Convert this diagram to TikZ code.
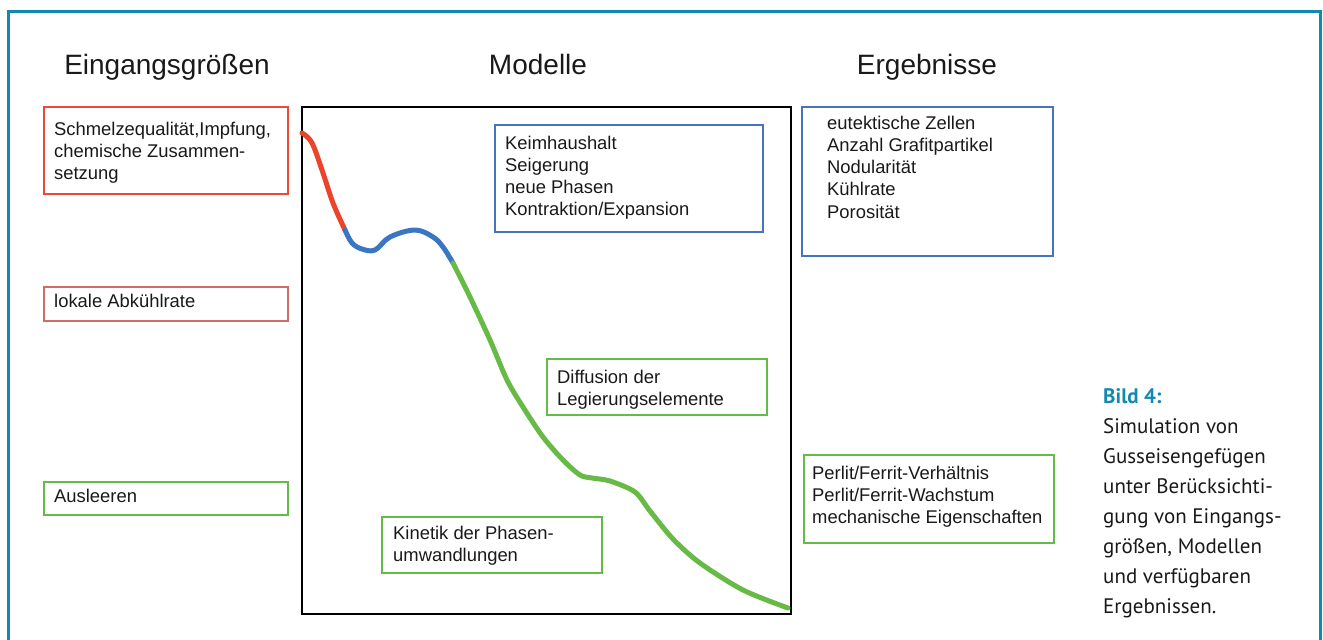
\documentclass[tikz,border=0pt]{standalone}
\usepackage{fontspec}
\setmainfont{Liberation Sans}
\newfontfamily\capfont{PT Sans}
\definecolor{frameteal}{RGB}{20,137,175}
\definecolor{boxred}{RGB}{236,74,52}
\definecolor{boxrose}{RGB}{205,108,104}
\definecolor{boxblue}{RGB}{72,116,190}
\definecolor{boxgreen}{RGB}{102,186,72}
\definecolor{curvered}{RGB}{236,68,42}
\definecolor{curveblue}{RGB}{58,118,194}
\definecolor{curvegreen}{RGB}{104,186,70}
\definecolor{txt}{RGB}{25,25,25}
\newcommand{\boxtext}[1]{\parbox[t]{300pt}{\raggedright\fontsize{18.4}{22.3}\selectfont #1}}
\newcommand{\captext}[1]{\parbox[t]{220pt}{\raggedright\capfont\fontsize{21}{30}\selectfont #1}}
\tikzset{
  frame/.style={draw=frameteal, line width=3pt},
  pbox/.style={draw=#1, line width=2pt, anchor=north west, inner sep=0pt, fill=none},
  btext/.style={anchor=base west, inner sep=0pt, text=txt},
  heading/.style={anchor=base, inner sep=0pt, text=txt, font=\fontsize{28}{32}\selectfont},
  curve/.style={draw=#1, line width=5pt, line cap=round, line join=round}
}
\begin{document}
\begin{tikzpicture}[x=1pt,y=-1pt]
\useasboundingbox (0,0) rectangle (1323,640);
% outer frame (open at bottom)
\coordinate (fbl) at (8,642);
\coordinate (ftl) at (8,11.5);
\coordinate (ftr) at (1320,11.5);
\coordinate (fbr) at (1320,642);
\draw[frame] (fbl) -- (ftl) -- (ftr) -- (fbr);

% headings
\node[heading] (h1) at (167,74) {Eingangsgrößen};
\node[heading] (h2) at (538,74) {Modelle};
\node[heading] (h3) at (927,74) {Ergebnisse};

% input boxes
\node[pbox=boxred, minimum width=244, minimum height=87] (in1) at (43,106) {};
\node[btext] (in1t) at (54,135) {\boxtext{Schmelzequalität,Impfung,\\chemische Zusammen-\\setzung}};
\node[pbox=boxrose, minimum width=244, minimum height=34] (in2) at (43,286) {};
\node[btext] (in2t) at (54,307) {\boxtext{lokale Abkühlrate}};
\node[pbox=boxgreen, minimum width=244, minimum height=33] (in3) at (43,481) {};
\node[btext] (in3t) at (54,502) {\boxtext{Ausleeren}};

% model box
\node[pbox=black, minimum width=489, minimum height=507] (model) at (301,106) {};

% curve
\draw[curve=curvered] plot[smooth, tension=0.6] coordinates {(302,133) (312,143) (323,173) (333,203) (345,230)};
\draw[curve=curveblue] plot[smooth, tension=0.6] coordinates {(345,230) (352,243) (362,249) (375,250) (390,237) (415,230) (433,237) (443,247) (453,263)};
\draw[curve=curvegreen] plot[smooth, tension=0.5] coordinates {(453,263) (470,297) (490,340) (507,380) (523,407) (543,437) (563,460) (580,475) (592,478) (610,481) (635,492) (650,511) (673,539) (700,563) (743,590) (788,608)};

% model boxes
\node[pbox=boxblue, minimum width=268, minimum height=107] (m1) at (494,124) {};
\node[btext] (m1t) at (505,149) {\boxtext{Keimhaushalt\\Seigerung\\neue Phasen\\Kontraktion/Expansion}};
\node[pbox=boxgreen, minimum width=220, minimum height=56] (m2) at (546,358) {};
\node[btext] (m2t) at (557,383) {\boxtext{Diffusion der\\Legierungselemente}};
\node[pbox=boxgreen, minimum width=220, minimum height=56] (m3) at (381,516) {};
\node[btext] (m3t) at (393,539) {\boxtext{Kinetik der Phasen-\\umwandlungen}};

% result boxes
\node[pbox=boxblue, minimum width=251, minimum height=149] (r1) at (801,106) {};
\node[btext] (r1t) at (827,129) {\boxtext{eutektische Zellen\\Anzahl Grafitpartikel\\Nodularität\\Kühlrate\\Porosität}};
\node[pbox=boxgreen, minimum width=250, minimum height=88] (r2) at (803,454) {};
\node[btext] (r2t) at (812,479) {\boxtext{Perlit/Ferrit-Verhältnis\\Perlit/Ferrit-Wachstum\\mechanische Eigenschaften}};

% caption
\node[anchor=base west, inner sep=0pt, text=txt] (cap) at (1103,403) {\captext{\textcolor{frameteal}{\bfseries Bild 4:}\\Simulation von\\Gusseisengefügen\\unter Berücksichti-\\gung von Eingangs-\\größen, Modellen\\und verfügbaren\\Ergebnissen.}};
\end{tikzpicture}
\end{document}
